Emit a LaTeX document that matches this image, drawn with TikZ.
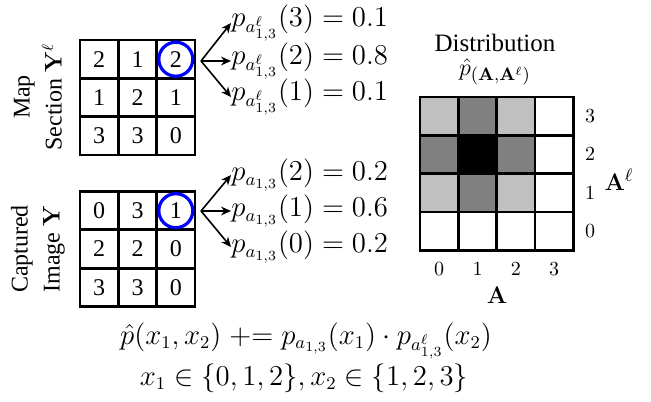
\documentclass[tikz,border=0pt]{standalone}
\usepackage{amsmath}
\usepackage[no-math]{fontspec}
\setmainfont{Liberation Serif}
\usetikzlibrary{arrows.meta}
\definecolor{mkblue}{HTML}{0000FF}
\definecolor{mklight}{HTML}{C0C0C0}
\definecolor{mkmid}{HTML}{808080}

\begin{document}
\begin{tikzpicture}[
  x=0.5pt, y=-0.5pt,
  cell/.style  = {rectangle, draw=black, line width=1.4pt, minimum size=19.15pt,
                  inner sep=0pt, font=\fontsize{12}{14}\selectfont},
  pick/.style  = {circle, draw=mkblue, line width=1.6pt, minimum size=17pt, inner sep=0pt},
  prob/.style  = {anchor=west, inner sep=0pt, font=\fontsize{13.3}{15}\selectfont},
  side/.style  = {rotate=90, align=center, font=\fontsize{12}{16}\selectfont},
  tick/.style  = {font=\fontsize{10}{11}\selectfont},
  plain/.style = {font=\fontsize{12.5}{14}\selectfont},
  rule/.style  = {font=\fontsize{13.3}{15}\selectfont},
  flow/.style  = {-{Stealth[length=5pt,width=4.4pt]}, draw=black, line width=0.8pt},
]
\useasboundingbox (0,0) rectangle (651,401);

% map section
\foreach \v [count=\i from 0] in {2,1,2,1,2,1,3,3,0} {
  \pgfmathtruncatemacro\r{div(\i,3)}
  \pgfmathtruncatemacro\c{mod(\i,3)}
  \node[cell] (m\r\c) at (99.2+38.3*\c, 59.2+38.3*\r) {\v};
}
\node[pick] (mc) at (m02) {};
\node[side] (mlab) at (38,97) {Map\\Section $\mathbf{Y}^{\ell}$};

% captured image
\foreach \v [count=\i from 0] in {0,3,1,2,2,0,3,3,0} {
  \pgfmathtruncatemacro\r{div(\i,3)}
  \pgfmathtruncatemacro\c{mod(\i,3)}
  \node[cell] (y\r\c) at (99.2+38.3*\c, 210.7+38.3*\r) {\v};
}
\node[pick] (yc) at (y02) {};
\node[side] (ylab) at (38,249) {Captured\\Image $\mathbf{Y}$};

% per-pixel probabilities
\coordinate (mf) at (201,61);
\coordinate (yf) at (201,211);
\node[prob] (mp3) at (231,23)  {$p_{a^{\ell}_{1,3}}(3) = 0.1$};
\node[prob] (mp2) at (231,61)  {$p_{a^{\ell}_{1,3}}(2) = 0.8$};
\node[prob] (mp1) at (231,97)  {$p_{a^{\ell}_{1,3}}(1) = 0.1$};
\node[prob] (yp2) at (231,175) {$p_{a_{1,3}}(2) = 0.2$};
\node[prob] (yp1) at (231,211) {$p_{a_{1,3}}(1) = 0.6$};
\node[prob] (yp0) at (231,247) {$p_{a_{1,3}}(0) = 0.2$};
\draw[flow] (mf) -- (mp3.west);
\draw[flow] (mf) -- (mp2.west);
\draw[flow] (mf) -- (mp1.west);
\draw[flow] (yf) -- (yp2.west);
\draw[flow] (yf) -- (yp1.west);
\draw[flow] (yf) -- (yp0.west);

% joint distribution
\node[plain] (dtitle) at (495,43) {Distribution};
\node[plain] (dsym) at (495,72) {$\hat{p}_{(\mathbf{A},\mathbf{A}^{\ell})}$};
\foreach \f [count=\i from 0] in {mklight,mkmid,mklight,white,
                                  mkmid,black,mkmid,white,
                                  mklight,mkmid,mklight,white,
                                  white,white,white,white} {
  \pgfmathtruncatemacro\r{div(\i,4)}
  \pgfmathtruncatemacro\c{mod(\i,4)}
  \node[cell, fill=\f] (d\r\c) at (439.2+38.3*\c, 116.2+38.3*\r) {};
}
\foreach \k in {0,1,2,3} {
  \node[tick] (ax\k) at (439.2+38.3*\k, 269) {$\k$};
  \node[tick] (ay\k) at (590, 231.1-38.3*\k) {$\k$};
}
\node[plain] (alab) at (497,295) {$\mathbf{A}$};
\node[plain] (allab) at (619,180) {$\mathbf{A}^{\ell}$};

% update rule
\node[rule] (upd) at (306,341)
  {$\hat{p}(x_1,x_2) \mathrel{+}= p_{a_{1,3}}(x_1)\cdot p_{a^{\ell}_{1,3}}(x_2)$};
\node[rule] (dom) at (304,378) {$x_1 \in \{0,1,2\}, x_2 \in \{1,2,3\}$};
\end{tikzpicture}
\end{document}
